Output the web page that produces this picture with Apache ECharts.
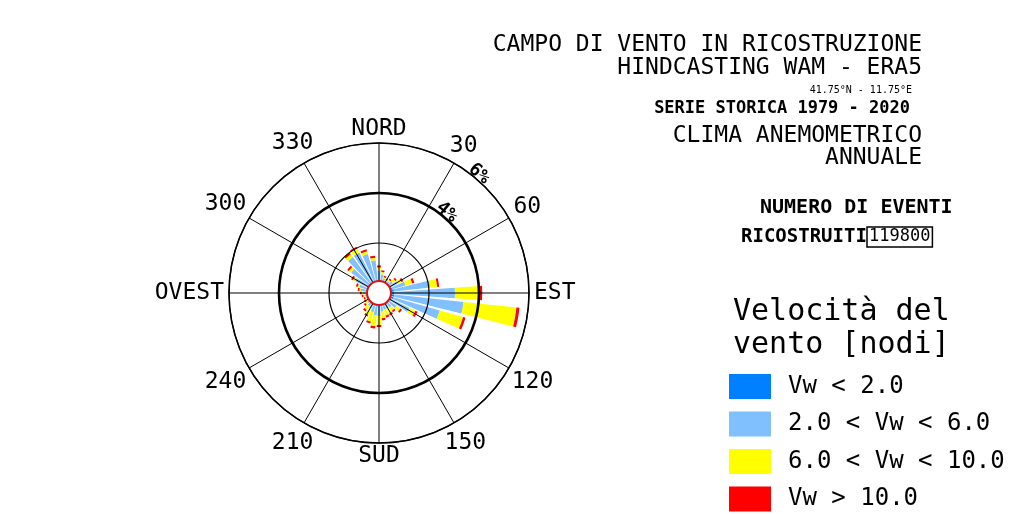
<!DOCTYPE html>
<html>
<head>
<meta charset="utf-8">
<script src="https://cdn.jsdelivr.net/npm/echarts@6/dist/echarts.min.js"></script>
<style>
html,body{margin:0;padding:0;background:#fff;}
#chart{width:1019px;height:514px;}
</style>
</head>
<body>
<div id="chart"></div>
<script>
// ---- data ----
const directions = ['0','10','20','30','40','50','60','70','80','90','100','110','120','130','140','150','160','170',
                    '180','190','200','210','220','230','240','250','260','270','280','290','300','310','320','330','340','350'];
// frequency (%) per class, per direction sector
const vwLt2   = [0.50,0.50,0.50,0.50,0.50,0.50,0.52,0.55,0.60,0.62,0.62,0.60,0.56,0.52,0.50,0.50,0.50,0.50,
                 0.50,0.50,0.50,0.50,0.50,0.50,0.50,0.50,0.50,0.50,0.50,0.50,0.50,0.50,0.50,0.50,0.50,0.50];
const vw2to6  = [0.40,0.25,0.10,0.05,0.08,0.18,0.30,0.55,1.47,2.42,2.78,1.93,0.80,0.35,0.22,0.20,0.20,0.25,
                 0.42,0.40,0.30,0.20,0.14,0.08,0.05,0.04,0.08,0.14,0.24,0.32,0.57,0.88,1.28,1.30,1.12,0.82];
const vw6to10 = [0.12,0.10,0.06,0.05,0.08,0.13,0.18,0.28,0.27,1.00,2.13,0.97,0.26,0.19,0.16,0.22,0.24,0.27,
                 0.36,0.44,0.39,0.27,0.20,0.10,0.05,0.04,0.05,0.05,0.05,0.07,0.09,0.11,0.14,0.18,0.12,0.10];
const vwGt10  = [0.08,0.07,0.06,0.05,0.06,0.07,0.08,0.09,0.08,0.09,0.12,0.10,0.10,0.08,0.07,0.08,0.08,0.08,
                 0.08,0.09,0.08,0.08,0.08,0.07,0.06,0.06,0.07,0.07,0.07,0.07,0.08,0.08,0.08,0.08,0.08,0.08];
const classNames  = ['Vw < 2.0', '2.0 < Vw < 6.0', '6.0 < Vw < 10.0', 'Vw > 10.0'];
const angleTicks  = [0, 30, 60, 90, 120, 150, 180, 210, 240, 270, 300, 330];
const angleLabels = ['NORD','30','60','EST','120','150','SUD','210','240','OVEST','300','330'];
const ringLabels  = [4, 6];
const eventCount  = '119800';

// ---- layout / style ----
const C = [379, 293];
const R = 150;
const RMAX = 6;
const MONO = '"DejaVu Sans Mono", monospace';
const LABEL_FONT_SIZE = 23;
const LABEL_GAP = 5;       // px between outer ring and label box
const CAP_H = 17;          // approx. text height for placement
const colors = ['#0080ff', '#80c0ff', '#ffff00', '#ff0000'];
const classData = [vwLt2, vw2to6, vw6to10, vwGt10];

// place angle labels just outside the outer ring (box-aware)
const mctx = document.createElement('canvas').getContext('2d');
mctx.font = LABEL_FONT_SIZE + 'px ' + MONO;
const angleLabelData = angleLabels.map((t, i) => {
  const a = angleTicks[i] * Math.PI / 180;
  const w = mctx.measureText(t).width;
  const ext = Math.abs(Math.sin(a)) * w / 2 + Math.abs(Math.cos(a)) * CAP_H / 2;
  return {name: t, value: [RMAX * (R + LABEL_GAP + ext) / R, angleTicks[i]]};
});

const chart = echarts.init(document.getElementById('chart'), null, {renderer: 'canvas'});

const barSeries = classNames.map((n, i) => ({
  name: n,
  type: 'bar',
  coordinateSystem: 'polar',
  polarIndex: 0,
  stack: 'wind',
  barCategoryGap: '20%',
  data: classData[i],
  itemStyle: {color: colors[i]},
  silent: true,
  z: 2
}));

const txtLabel = {show: true, position: 'inside', formatter: '{b}', color: '#000',
                  textBorderWidth: 0, textShadowBlur: 0, opacity: 1, fontFamily: MONO};

const option = {
  animation: false,
  backgroundColor: '#fff',
  polar: [
    {center: C, radius: R},
    {center: C, radius: R},
    {center: C, radius: R}
  ],
  angleAxis: [
    {polarIndex: 0, type: 'category', data: directions, startAngle: 95, clockwise: true, boundaryGap: true, show: false},
    {polarIndex: 1, type: 'value', min: 0, max: 360, interval: 30, startAngle: 90, clockwise: true, z: 3,
     axisLine: {show: true, lineStyle: {color: '#000', width: 1.5}},
     axisTick: {show: false},
     splitLine: {show: true, lineStyle: {color: '#000', width: 1}},
     axisLabel: {show: false}},
    {polarIndex: 2, type: 'value', min: 0, max: 360, startAngle: 90, show: false}
  ],
  radiusAxis: [
    {polarIndex: 0, type: 'value', min: 0, max: RMAX, show: false},
    {polarIndex: 1, type: 'value', min: 0, max: RMAX, interval: 2, z: 3,
     axisLine: {show: false}, axisTick: {show: false}, axisLabel: {show: false},
     splitLine: {show: true, lineStyle: {color: '#000', width: 1.2}}},
    {polarIndex: 2, type: 'value', min: 0, max: RMAX, interval: 2, z: 3,
     axisLine: {show: false}, axisTick: {show: false}, axisLabel: {show: false},
     splitLine: {show: true, lineStyle: {color: ['rgba(0,0,0,0)', 'rgba(0,0,0,0)', '#000', 'rgba(0,0,0,0)'], width: 2.6}}}
  ],
  legend: {
    data: classNames,
    orient: 'vertical',
    left: 729, top: 374,
    padding: 0,
    icon: 'rect',
    itemWidth: 42, itemHeight: 25, itemGap: 12.5,
    selectedMode: false,
    textStyle: {fontFamily: MONO, fontSize: 24, color: '#000', padding: [0, 0, 0, 12]}
  },
  series: barSeries.concat([
    {
      type: 'scatter', coordinateSystem: 'polar', polarIndex: 1, clip: false, silent: true, z: 4,
      symbolSize: 1, itemStyle: {color: 'rgba(0,0,0,0)'},
      data: angleLabelData,
      label: Object.assign({}, txtLabel, {align: 'center', verticalAlign: 'middle', fontSize: LABEL_FONT_SIZE})
    },
    {
      type: 'scatter', coordinateSystem: 'polar', polarIndex: 1, clip: false, silent: true, z: 4,
      symbolSize: 1, itemStyle: {color: 'rgba(0,0,0,0)'},
      data: ringLabels.map(v => ({name: v + '%', value: [v + 0.22, 40]})),
      label: Object.assign({}, txtLabel, {rotate: -40, fontSize: 18, fontWeight: 'bold'})
    },
    {
      type: 'pie', center: C, radius: [0, 12], silent: true, z: 10,
      label: {show: false}, labelLine: {show: false},
      itemStyle: {color: '#fff', borderColor: '#e01010', borderWidth: 2},
      data: [{value: 1, name: 'calma'}]
    }
  ]),
  graphic: [
    {type: 'text', x: 922, y: 45, style: {text: 'CAMPO DI VENTO IN RICOSTRUZIONE', font: '23px ' + MONO, fill: '#000', align: 'right', verticalAlign: 'middle'}},
    {type: 'text', x: 922, y: 68, style: {text: 'HINDCASTING WAM - ERA5', font: '23px ' + MONO, fill: '#000', align: 'right', verticalAlign: 'middle'}},
    {type: 'text', x: 912, y: 90, style: {text: '41.75°N - 11.75°E', font: '10px ' + MONO, fill: '#000', align: 'right', verticalAlign: 'middle'}},
    {type: 'text', x: 910, y: 109, style: {text: 'SERIE STORICA 1979 - 2020', font: 'bold 17px ' + MONO, fill: '#000', align: 'right', verticalAlign: 'middle'}},
    {type: 'text', x: 922, y: 136, style: {text: 'CLIMA ANEMOMETRICO', font: '23px ' + MONO, fill: '#000', align: 'right', verticalAlign: 'middle'}},
    {type: 'text', x: 922, y: 158, style: {text: 'ANNUALE', font: '23px ' + MONO, fill: '#000', align: 'right', verticalAlign: 'middle'}},
    {type: 'text', x: 760, y: 208, style: {text: 'NUMERO DI EVENTI', font: 'bold 20px ' + MONO, fill: '#000', align: 'left', verticalAlign: 'middle'}},
    {type: 'text', x: 741, y: 237, style: {text: 'RICOSTRUITI', font: 'bold 19px ' + MONO, fill: '#000', align: 'left', verticalAlign: 'middle'}},
    {type: 'text', x: 867, y: 237, style: {text: eventCount, font: '17px ' + MONO, fill: '#000', align: 'left', verticalAlign: 'middle',
      borderColor: '#000', borderWidth: 1.5, padding: [2, 2, 1, 2]}},
    {type: 'text', x: 733, y: 312, style: {text: 'Velocità del', font: '30px ' + MONO, fill: '#000', align: 'left', verticalAlign: 'middle'}},
    {type: 'text', x: 733, y: 345, style: {text: 'vento [nodi]', font: '30px ' + MONO, fill: '#000', align: 'left', verticalAlign: 'middle'}}
  ]
};
chart.setOption(option);
</script>
</body>
</html>
